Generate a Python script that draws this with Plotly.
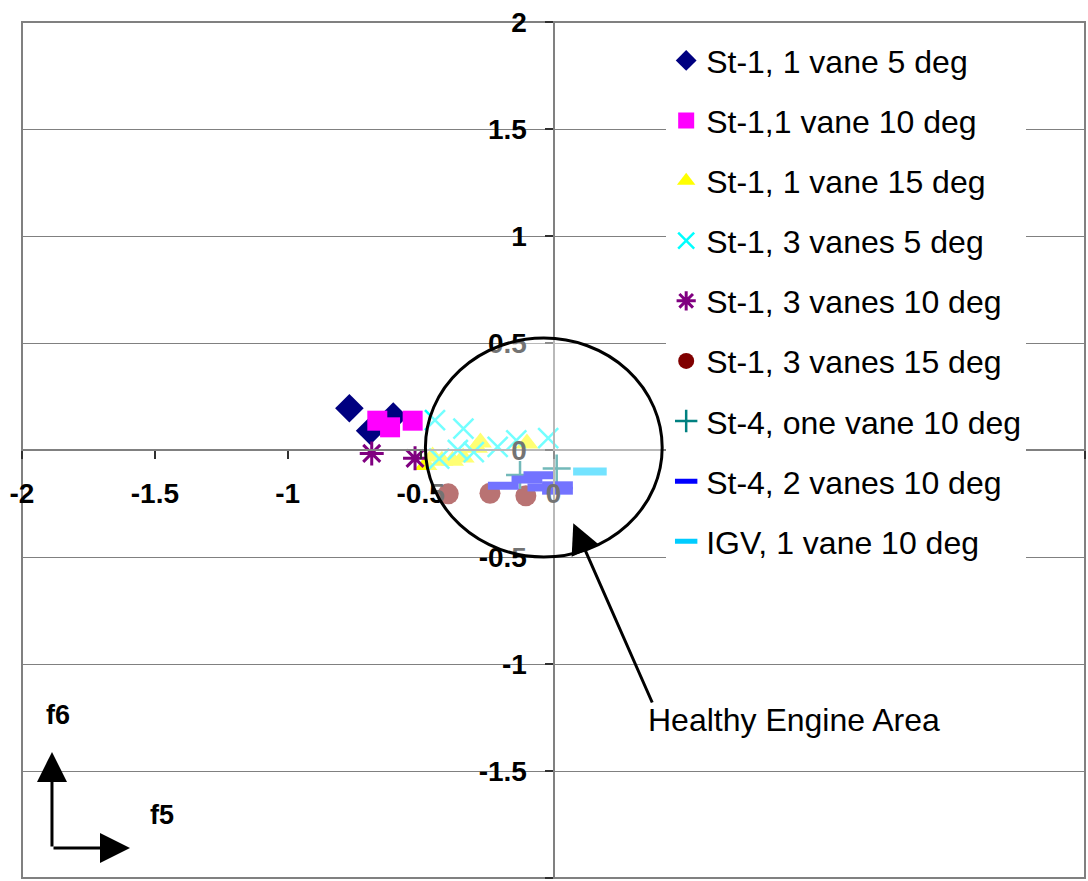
import plotly.graph_objects as go

# ---- data: f5 (x) / f6 (y) signatures per fault case ----
st1_1v5_x = [-0.768, -0.690, -0.603]
st1_1v5_y = [0.195, 0.090, 0.156]

st1_1v10_x = [-0.663, -0.615, -0.530]
st1_1v10_y = [0.137, 0.106, 0.137]

st1_1v15_x = [-0.480, -0.455, -0.420, -0.380, -0.340, -0.290, -0.275, -0.100]
st1_1v15_y = [-0.070, -0.030, -0.050, -0.050, -0.035, 0.010, 0.035, 0.030]

st1_3v5_x = [-0.446, -0.339, -0.430, -0.360, -0.300, -0.210, -0.140, -0.020]
st1_3v5_y = [0.140, 0.100, -0.040, 0.000, -0.010, 0.015, 0.045, 0.055]

st1_3v10_x = [-0.684, -0.521]
st1_3v10_y = [-0.016, -0.039]

st1_3v15_x = [-0.396, -0.239, -0.104]
st1_3v15_y = [-0.205, -0.202, -0.214]

st4_1v10_x = [-0.126, 0.012]
st4_1v10_y = [-0.117, -0.086]

st4_2v10_x = [-0.189, -0.100, -0.055, -0.040, 0.015, 0.015]
st4_2v10_y = [-0.167, -0.138, -0.118, -0.175, -0.165, -0.190]

igv_1v10_x = [0.137]
igv_1v10_y = [-0.101]

series_names = [
    "St-1, 1 vane 5 deg", "St-1,1 vane 10 deg", "St-1, 1 vane 15 deg",
    "St-1, 3 vanes 5 deg", "St-1, 3 vanes 10 deg", "St-1, 3 vanes 15 deg",
    "St-4, one vane 10 deg", "St-4, 2 vanes 10 deg", "IGV, 1 vane 10 deg",
]

tick_vals = [-2, -1.5, -1, -0.5, 0, 0.5, 1, 1.5, 2]
tick_text = ["-2", "-1.5", "-1", "-0.5", "0", "0.5", "1", "1.5", "2"]

# healthy region ellipse bounds (data units)
healthy_x = [-0.482, 0.409]
healthy_y = [-0.500, 0.523]

FONT = "Arial, Liberation Sans, sans-serif"

series = [
    (st1_1v5_x, st1_1v5_y, dict(symbol="diamond", size=22, color="#000080")),
    (st1_1v10_x, st1_1v10_y, dict(symbol="square", size=20, color="#FF00FF")),
    (st1_1v15_x, st1_1v15_y, dict(symbol="triangle-up", size=20, color="#FFFF00")),
    (st1_3v5_x, st1_3v5_y, dict(symbol="x-thin", size=20, color="#00FFFF",
                                 line=dict(color="#00FFFF", width=2.5))),
    (st1_3v10_x, st1_3v10_y, dict(symbol="asterisk", size=20, color="#800080",
                                   line=dict(color="#800080", width=3))),
    (st1_3v15_x, st1_3v15_y, dict(symbol="circle", size=21, color="#800000")),
    (st4_1v10_x, st4_1v10_y, dict(symbol="cross-thin", size=20, color="#008080",
                                   line=dict(color="#008080", width=2.5))),
    (st4_2v10_x, st4_2v10_y, dict(symbol="line-ew", size=22, color="#0000FF",
                                   line=dict(color="#0000FF", width=8))),
    (igv_1v10_x, igv_1v10_y, dict(symbol="line-ew", size=24, color="#00CCFF",
                                   line=dict(color="#00CCFF", width=8))),
]

fig = go.Figure()
for i, ((xs, ys, mk), name) in enumerate(zip(series, series_names)):
    fig.add_trace(go.Scatter(x=xs, y=ys, mode="markers", name=name,
                             marker=mk, legendgroup=f"g{i}"))

# healthy engine area: ellipse with translucent white fill over the markers
fig.add_shape(type="circle", xref="x", yref="y",
              x0=healthy_x[0], x1=healthy_x[1], y0=healthy_y[0], y1=healthy_y[1],
              line=dict(color="black", width=3),
              fillcolor="rgba(255,255,255,0.45)", layer="above")

# plot frame
fig.add_shape(type="rect", xref="paper", yref="paper", x0=0, x1=1, y0=0, y1=1,
              line=dict(color="#808080", width=2), layer="below")

# arrow pointing at the healthy region
fig.add_annotation(x=0.0745, y=-0.3425, ax=0.374, ay=-1.187,
                   xref="x", yref="y", axref="x", ayref="y", text="",
                   showarrow=True, arrowhead=2, arrowwidth=3, arrowsize=2,
                   arrowcolor="black", standoff=0, startstandoff=0)
fig.add_annotation(x=0.905, y=-1.262, xref="x", yref="y",
                   xanchor="center", yanchor="middle",
                   text="Healthy Engine Area", showarrow=False,
                   font=dict(family=FONT, size=32, color="black"))

# small f5/f6 direction key in the lower-left corner
fig.add_annotation(x=0.0282, y=0.1472, xref="paper", yref="paper",
                   ax=0, ay=96, axref="pixel", ayref="pixel", text="",
                   showarrow=True, arrowhead=2, arrowwidth=3, arrowsize=2,
                   arrowcolor="black", standoff=0)
fig.add_annotation(x=0.1016, y=0.035, xref="paper", yref="paper",
                   ax=-78, ay=0, axref="pixel", ayref="pixel", text="",
                   showarrow=True, arrowhead=2, arrowwidth=3, arrowsize=2,
                   arrowcolor="black", standoff=0)
fig.add_annotation(x=0.034, y=0.1905, xref="paper", yref="paper", text="f6",
                   xanchor="center", yanchor="middle", showarrow=False,
                   font=dict(family=FONT, size=27, color="black", weight="bold"))
fig.add_annotation(x=0.1317, y=0.0736, xref="paper", yref="paper", text="f5",
                   xanchor="center", yanchor="middle", showarrow=False,
                   font=dict(family=FONT, size=27, color="black", weight="bold"))

axis_common = dict(
    range=[-2, 2], tickmode="array", tickvals=tick_vals, ticktext=tick_text,
    showline=True, linecolor="#808080", linewidth=2, zeroline=False,
    ticks="outside", ticklen=8, tickcolor="#303030", tickwidth=1.5,
    tickfont=dict(family=FONT, size=28, color="black", weight="bold"),
    anchor="free", position=0.5,
)

fig.update_layout(
    width=1088, height=881, autosize=False,
    margin=dict(l=22, r=3, t=22, b=3, pad=0),
    paper_bgcolor="white", plot_bgcolor="white",
    xaxis=dict(**axis_common, showgrid=False, ticklabelstandoff=10),
    yaxis=dict(**axis_common, showgrid=True, gridcolor="#808080", gridwidth=1,
               ticklabelstandoff=12),
    showlegend=True,
    legend=dict(x=0.606, y=0.987, xanchor="left", yanchor="top",
                bgcolor="white", borderwidth=0, tracegroupgap=15.5,
                traceorder="grouped", itemsizing="trace",
                font=dict(family=FONT, size=32, color="black")),
)

fig.write_html("out.html")
